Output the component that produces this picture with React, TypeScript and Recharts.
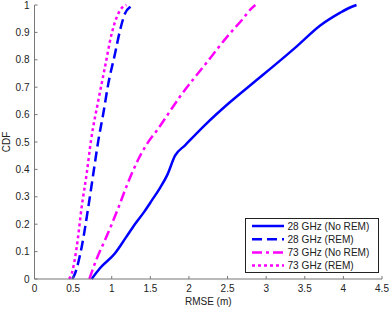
import { LineChart, Line, XAxis, YAxis, Legend } from "recharts";

// RMSE (m) / CDF samples, one pair of arrays per curve
const rmse28NoRem = [0.74, 0.85, 1.04, 1.18, 1.3, 1.42, 1.52, 1.62, 1.72, 1.82, 1.95, 2.2, 2.53, 2.85, 3.18, 3.4, 3.7, 3.96, 4.08, 4.17];
const cdf28NoRem = [0, 0.04, 0.093, 0.15, 0.2, 0.245, 0.287, 0.33, 0.38, 0.45, 0.488, 0.56, 0.645, 0.72, 0.797, 0.85, 0.925, 0.972, 0.99, 1];

const rmse28Rem = [0.49, 0.525, 0.611, 0.697, 0.762, 0.827, 0.891, 0.956, 1.043, 1.108, 1.172, 1.24, 1.3];
const cdf28Rem = [0, 0.02, 0.117, 0.263, 0.385, 0.506, 0.604, 0.713, 0.823, 0.908, 0.969, 0.993, 1];

const rmse73NoRem = [0.71, 0.8, 0.91, 1.0, 1.09, 1.18, 1.26, 1.35, 1.45, 1.6, 1.88, 2.23, 2.53, 2.7, 2.8, 2.86];
const cdf73NoRem = [0, 0.07, 0.14, 0.2, 0.263, 0.33, 0.385, 0.44, 0.49, 0.548, 0.664, 0.79, 0.896, 0.95, 0.985, 1];

const rmse73Rem = [0.447, 0.482, 0.547, 0.611, 0.676, 0.732, 0.827, 0.913, 1.0, 1.086, 1.14, 1.19];
const cdf73Rem = [0, 0.02, 0.117, 0.263, 0.385, 0.506, 0.652, 0.774, 0.896, 0.969, 0.992, 1];

const xTicks = [0, 0.5, 1, 1.5, 2, 2.5, 3, 3.5, 4, 4.5];
const yTicks = [0, 0.1, 0.2, 0.3, 0.4, 0.5, 0.6, 0.7, 0.8, 0.9, 1];

const seriesNames = ["28 GHz (No REM)", "28 GHz (REM)", "73 GHz (No REM)", "73 GHz (REM)"];
const seriesColors = ["#0000ff", "#0000ff", "#ff00ff", "#ff00ff"];
const seriesDash = ["", "10 5", "10 4 3 4", "3 3"];

const zip = (xs: number[], ys: number[]) => xs.map((x, i) => ({ x, y: ys[i] }));

const seriesData = [
  zip(rmse28NoRem, cdf28NoRem),
  zip(rmse28Rem, cdf28Rem),
  zip(rmse73NoRem, cdf73NoRem),
  zip(rmse73Rem, cdf73Rem),
];

const FONT = "'Liberation Sans', Arial, Helvetica, sans-serif";
const AXIS = "#777";

const XTick = (props: any) => {
  const { x, y, payload } = props;
  return (
    <g>
      <line x1={x} x2={x} y1={y} y2={y - 3} stroke={AXIS} />
      <text x={x} y={y + 12.8} textAnchor="middle" fontSize={10} fill="#222" fontFamily={FONT}>
        {String(payload.value)}
      </text>
    </g>
  );
};

const YTick = (props: any) => {
  const { x, y, payload } = props;
  return (
    <g>
      <line x1={x} x2={x + 3} y1={y} y2={y} stroke={AXIS} />
      <text x={x - 5} y={y + 3.5} textAnchor="end" fontSize={10} fill="#222" fontFamily={FONT}>
        {String(payload.value)}
      </text>
    </g>
  );
};

const LegendBox = () => (
  <div
    style={{
      width: 132,
      height: 53,
      border: "1px solid #222",
      background: "#fff",
      fontFamily: FONT,
      fontSize: 10,
      color: "#222",
    }}
  >
    <svg width={132} height={53}>
      {seriesNames.map((name, i) => {
        const cy = 7 + i * 13.2;
        return (
          <g key={name}>
            <line
              x1={6}
              x2={38}
              y1={cy}
              y2={cy}
              stroke={seriesColors[i]}
              strokeWidth={2.5}
              strokeDasharray={seriesDash[i] || undefined}
            />
            <text x={41.5} y={cy + 3.6} fontSize={10.1} fill="#222" fontFamily={FONT}>
              {name}
            </text>
          </g>
        );
      })}
    </svg>
  </div>
);

export default function App() {
  return (
    <div style={{ position: "absolute", left: 0, top: 0, background: "#fff" }}>
      <LineChart width={390} height={310} margin={{ top: 5, right: 8, bottom: 1, left: 4.5 }}>
        <XAxis
          type="number"
          dataKey="x"
          domain={[0, 4.5]}
          ticks={xTicks}
          interval={0}
          tickSize={0}
          tickMargin={0}
          tickLine={false}
          height={30}
          stroke={AXIS}
          tick={<XTick />}
          allowDuplicatedCategory={false}
          label={{
            content: (p: any) => (
              <text
                x={p.viewBox.x + p.viewBox.width / 2}
                y={p.viewBox.y + 26}
                textAnchor="middle"
                fontSize={10}
                fill="#222"
                fontFamily={FONT}
              >
                RMSE (m)
              </text>
            ),
          }}
        />
        <YAxis
          type="number"
          dataKey="y"
          domain={[0, 1]}
          ticks={yTicks}
          interval={0}
          tickSize={0}
          tickMargin={0}
          tickLine={false}
          width={30}
          stroke={AXIS}
          tick={<YTick />}
          label={{
            content: (p: any) => {
              const lx = p.viewBox.x + 2;
              const ly = p.viewBox.y + p.viewBox.height / 2;
              return (
                <text
                  x={lx}
                  y={ly}
                  transform={`rotate(-90, ${lx}, ${ly})`}
                  textAnchor="middle"
                  dominantBaseline="central"
                  fontSize={10}
                  fill="#222"
                  fontFamily={FONT}
                >
                  CDF
                </text>
              );
            },
          }}
        />
        {seriesData.map((d, i) => (
          <Line
            key={seriesNames[i]}
            data={d}
            dataKey="y"
            name={seriesNames[i]}
            type="monotone"
            stroke={seriesColors[i]}
            strokeWidth={2.5}
            strokeDasharray={seriesDash[i] || undefined}
            dot={false}
            activeDot={false}
            isAnimationActive={false}
          />
        ))}
        <Legend
          layout="vertical"
          align="center"
          verticalAlign="middle"
          content={<LegendBox />}
          wrapperStyle={{ left: 245, top: 218, width: 134, height: 55 }}
        />
      </LineChart>
    </div>
  );
}
